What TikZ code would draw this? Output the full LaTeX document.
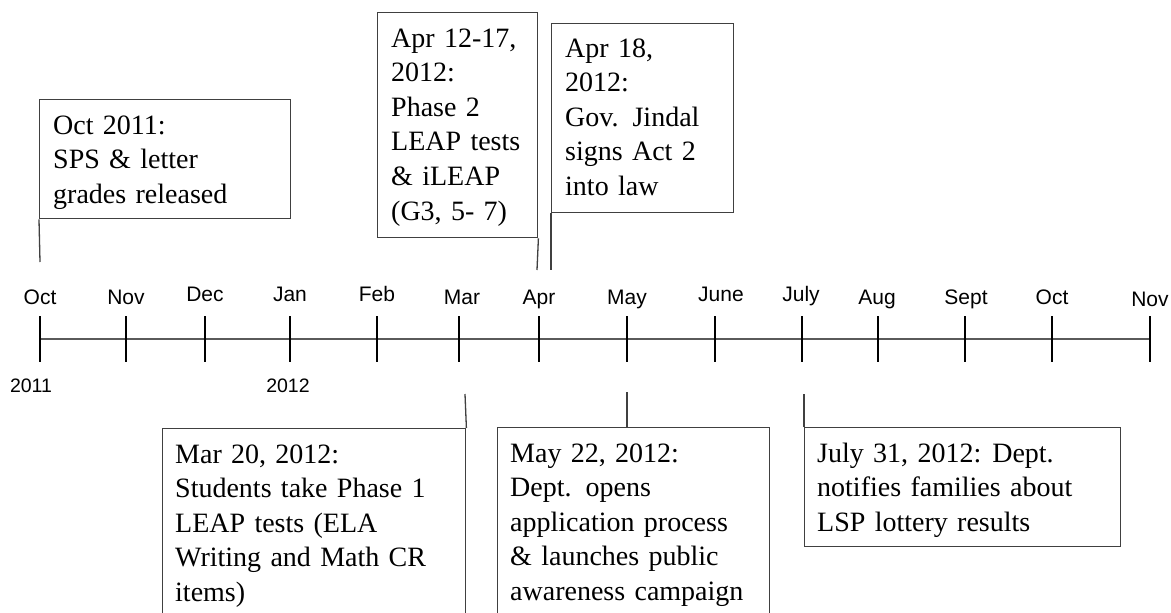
\documentclass[tikz,border=0pt]{standalone}
\usepackage{fontspec}
\setmainfont{Liberation Serif}
\newfontfamily\arialf{Liberation Sans}
\definecolor{boxline}{HTML}{404040}
\definecolor{axisline}{HTML}{5A5A5A}
\tikzset{
  evbox/.style={draw=boxline, line width=1.4pt, anchor=north west, inner sep=0pt},
  evtext/.style={anchor=base west, inner sep=0pt, text width=330pt, align=left,
    font=\fontsize{28}{34.6}\selectfont},
  link/.style={draw=boxline, line width=1.3pt},
  axisst/.style={draw=axisline, line width=2.2pt},
  tickst/.style={draw=black, line width=1.3pt},
  monthlab/.style={anchor=base, inner sep=0pt, font=\arialf\fontsize{21}{25}\selectfont},
  yearlab/.style={anchor=base, inner sep=0pt, font=\arialf\fontsize{19.5}{23}\selectfont}
}
\begin{document}
\begin{tikzpicture}[x=1pt, y=-1pt]
\useasboundingbox (0,0) rectangle (1171,613);
\clip (0,0) rectangle (1171,613);
\fill[white] (0,0) rectangle (1171,613);

% timeline axis
\coordinate (axL) at (40,339);
\coordinate (axR) at (1150,339);
\draw[axisst] (axL) -- (axR);

% ticks
\foreach \x [count=\i] in {40, 126, 205, 290, 377, 459, 539, 627, 715, 802, 878, 965, 1052, 1150}{
  \coordinate (t\i a) at (\x,316);
  \coordinate (t\i b) at (\x,362);
  \draw[tickst] (t\i a) -- (t\i b);
}
\node[monthlab] (m1) at (40,304) {Oct};
\node[monthlab] (m2) at (126,304) {Nov};
\node[monthlab] (m3) at (205,301) {Dec};
\node[monthlab] (m4) at (290,301) {Jan};
\node[monthlab] (m5) at (377,301) {Feb};
\node[monthlab] (m6) at (462,304) {Mar};
\node[monthlab] (m7) at (539,304) {Apr};
\node[monthlab] (m8) at (627,304) {May};
\node[monthlab] (m9) at (721,301) {June};
\node[monthlab] (m10) at (801,301) {July};
\node[monthlab] (m11) at (877,304) {Aug};
\node[monthlab] (m12) at (966,304) {Sept};
\node[monthlab] (m13) at (1052,304) {Oct};
\node[monthlab] (m14) at (1150,306) {Nov};

\node[yearlab] (y1) at (31,392) {2011};
\node[yearlab] (y2) at (288,392) {2012};

% upper boxes
\node[evbox, minimum width=251pt, minimum height=119pt] (oct) at (39,99) {};
\node[evtext] (toct) at (53,134) {Oct 2011:\\SPS \& letter\\grades released};
\coordinate (octend) at (40,262);
\draw[link] (oct.south west) -- (octend);

\node[evbox, minimum width=160pt, minimum height=225pt] (apa) at (377,12) {};
\node[evtext] (tapa) at (391,47) {Apr 12-17,\\2012:\\Phase 2\\LEAP tests\\\& iLEAP\\(G3, 5- 7)};
\coordinate (apaend) at (537,270);
\draw[link] (apa.south east) -- (apaend);

\node[evbox, minimum width=182pt, minimum height=189pt] (apb) at (551,23) {};
\node[evtext] (tapb) at (565,57) {Apr 18,\\2012:\\Gov. Jindal\\signs Act 2\\into law};
\coordinate (apbend) at (551,270);
\draw[link] (apb.south west) -- (apbend);

% lower boxes
\node[evbox, minimum width=303pt, minimum height=230pt] (mar) at (162,428) {};
\node[evtext] (tmar) at (175,463) {Mar 20, 2012:\\Students take Phase 1\\LEAP tests (ELA\\Writing and Math CR\\items)};
\coordinate (marend) at (465,394);
\draw[link] (mar.north east) -- (marend);

\node[evbox, minimum width=272pt, minimum height=230pt] (may) at (497,427) {};
\node[evtext] (tmay) at (510,462) {May 22, 2012:\\Dept. opens\\application process\\\& launches public\\awareness campaign};
\coordinate (mayend) at (627,392);
\draw[link] (may.north -| mayend) -- (mayend);

\node[evbox, minimum width=316pt, minimum height=119pt] (jul) at (804,427) {};
\node[evtext] (tjul) at (817,462) {July 31, 2012:\hspace{-3pt} Dept.\\notifies families about\\LSP lottery results};
\coordinate (julend) at (804,394);
\draw[link] (jul.north west) -- (julend);
\end{tikzpicture}
\end{document}
